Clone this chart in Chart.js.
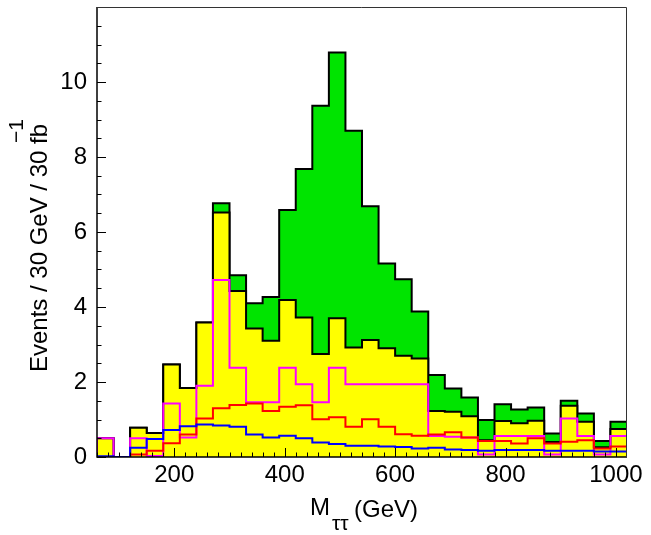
<!DOCTYPE html>
<html lang="en">
<head>
<meta charset="UTF-8">
<title>M tautau</title>
<style>
    body { margin: 0; background: #fff; }
</style>
</head>
<body>
<canvas id="chart" width="651" height="535"></canvas>
<script src="https://cdn.jsdelivr.net/npm/chart.js"></script>
<script>
// 32 bins of 30 GeV starting at 60 GeV
const binStart = 60;
const binWidth = 30;

// signal + background (green) and total background (yellow)
const total = [0.5, 0, 0.78, 0.64, 2.47, 1.84, 3.59, 6.77, 4.85, 4.1, 4.27, 6.59, 7.68, 9.37, 10.79, 8.7,
    6.69, 5.16, 4.74, 3.88, 2.19, 1.83, 1.59, 0.99, 1.41, 1.27, 1.32, 0.63, 1.5, 1.16, 0.43, 0.94];
const background = [0.5, 0, 0.78, 0.64, 2.47, 1.84, 3.59, 6.52, 4.43, 3.43, 3.1, 4.19, 3.72, 2.75, 3.7, 2.92,
    3.12, 2.9, 2.7, 2.63, 1.23, 1.21, 1.09, 0.45, 0.96, 0.9, 0.97, 0.4, 1.37, 0.94, 0.26, 0.75];
// individual background components
const magentaBkg = [0.5, 0, 0.5, 0.03, 1.43, 0.52, 1.9, 4.72, 2.38, 1.46, 1.46, 2.38, 1.94, 1.46, 2.38, 1.94,
    1.94, 1.94, 1.94, 1.94, 0.56, 0.54, 0.52, 0.07, 0.56, 0.56, 0.56, 0.07, 1.03, 0.56, 0.07, 0.56];
const redBkg = [0, 0, 0.07, 0.17, 0.37, 0.6, 1.03, 1.3, 1.39, 1.43, 1.23, 1.34, 1.38, 1.01, 1.06, 0.81,
    1.01, 0.81, 0.61, 0.57, 0.6, 0.66, 0.52, 0.43, 0.43, 0.36, 0.5, 0.36, 0.41, 0.45, 0.23, 0.28];
const blueBkg = [0.02, 0, 0.25, 0.48, 0.72, 0.82, 0.87, 0.84, 0.81, 0.6, 0.52, 0.57, 0.5, 0.39, 0.35, 0.3,
    0.3, 0.28, 0.27, 0.23, 0.25, 0.2, 0.19, 0.17, 0.19, 0.19, 0.19, 0.17, 0.17, 0.17, 0.15, 0.15];

const xTicks = [200, 400, 600, 800, 1000];
const yTicks = [0, 2, 4, 6, 8, 10];

const font = 'Liberation Sans, Arial, Helvetica, sans-serif';

// histogram outline as points for a stepped line
function steps(vals) {
    const pts = [{ x: binStart, y: 0 }];
    vals.forEach((v, i) => pts.push({ x: binStart + i * binWidth, y: v }));
    pts.push({ x: binStart + vals.length * binWidth, y: 0 });
    return pts;
}

function hist(vals, line, fillColor, order) {
    return {
        data: steps(vals),
        stepped: 'before',
        borderColor: line,
        borderWidth: 2,
        backgroundColor: fillColor || 'transparent',
        fill: fillColor ? 'origin' : false,
        pointRadius: 0,
        order: order
    };
}

const decor = {
    id: 'decor',
    afterDatasetsDraw(chart) {
        const { ctx, chartArea: a, scales: { x, y } } = chart;
        ctx.save();
        ctx.strokeStyle = '#000';
        ctx.lineWidth = 1;
        ctx.beginPath();
        for (let v = 0; v < y.max; v += 0.5) {
            const py = Math.round(y.getPixelForValue(v)) + 0.5;
            const len = v % 2 === 0 ? 9 : 4.5;
            ctx.moveTo(a.left, py);
            ctx.lineTo(a.left + len, py);
        }
        for (let v = 60; v < x.max; v += 20) {
            const px = Math.round(x.getPixelForValue(v)) + 0.5;
            const len = v % 200 === 0 ? 9 : 4.5;
            ctx.moveTo(px, a.bottom);
            ctx.lineTo(px, a.bottom - len);
        }
        ctx.stroke();
        // frame
        ctx.lineWidth = 1.5;
        ctx.beginPath();
        ctx.moveTo(a.left, a.top);
        ctx.lineTo(a.left, a.bottom);
        ctx.lineTo(a.right, a.bottom);
        ctx.stroke();
        ctx.lineWidth = 1;
        ctx.strokeStyle = '#333';
        ctx.beginPath();
        ctx.moveTo(a.left, a.top + 0.5);
        ctx.lineTo(a.right - 0.5, a.top + 0.5);
        ctx.lineTo(a.right - 0.5, a.bottom);
        ctx.stroke();
        ctx.restore();
    },
    afterDraw(chart) {
        const { ctx } = chart;
        ctx.save();
        ctx.fillStyle = '#000';
        // y title
        ctx.translate(40, 248);
        ctx.rotate(-Math.PI / 2);
        ctx.font = '24px ' + font;
        ctx.textAlign = 'center';
        ctx.textBaseline = 'middle';
        const title = 'Events / 30 GeV / 30 fb';
        ctx.fillText(title, 0, 0);
        const w = ctx.measureText(title).width;
        ctx.textAlign = 'left';
        ctx.font = '21px ' + font;
        ctx.fillText('\u22121', w / 2 - 19, -23);
        ctx.restore();
        // x title
        ctx.save();
        ctx.fillStyle = '#000';
        ctx.textBaseline = 'alphabetic';
        ctx.font = '24px ' + font;
        ctx.fillText('M', 310, 515);
        ctx.font = '21px ' + font;
        ctx.fillText('\u03c4\u03c4', 332, 530);
        ctx.font = '24px ' + font;
        ctx.fillText('(GeV)', 354, 517);
        ctx.restore();
    }
};

new Chart(document.getElementById('chart'), {
    type: 'line',
    data: {
        datasets: [
            hist(total, '#000', '#00e400', 5),
            hist(background, '#000', '#ffff00', 4),
            hist(magentaBkg, '#ff00ff', null, 3),
            hist(redBkg, '#ff0000', null, 2),
            hist(blueBkg, '#0000ff', null, 1)
        ]
    },
    options: {
        responsive: false,
        animation: false,
        parsing: false,
        layout: { padding: { top: 7, right: 24, left: 0, bottom: 0 } },
        plugins: { legend: { display: false }, tooltip: { enabled: false } },
        scales: {
            x: {
                type: 'linear',
                min: binStart,
                max: binStart + total.length * binWidth,
                afterBuildTicks: s => { s.ticks = xTicks.map(v => ({ value: v })); },
                afterFit: s => { s.height = 78; s.paddingLeft = 0; s.paddingRight = 0; },
                grid: { display: false, drawTicks: false },
                border: { display: false },
                ticks: { color: '#000', font: { family: font, size: 24 }, padding: 4, maxRotation: 0,
                    callback: v => String(v) }
            },
            y: {
                min: 0,
                max: 12,
                afterBuildTicks: s => { s.ticks = yTicks.map(v => ({ value: v })); },
                afterFit: s => { s.width = 97; s.paddingTop = 0; s.paddingBottom = 0; },
                grid: { display: false, drawTicks: false },
                border: { display: false },
                ticks: { color: '#000', font: { family: font, size: 24 }, padding: 10 }
            }
        }
    },
    plugins: [decor]
});
</script>
</body>
</html>
